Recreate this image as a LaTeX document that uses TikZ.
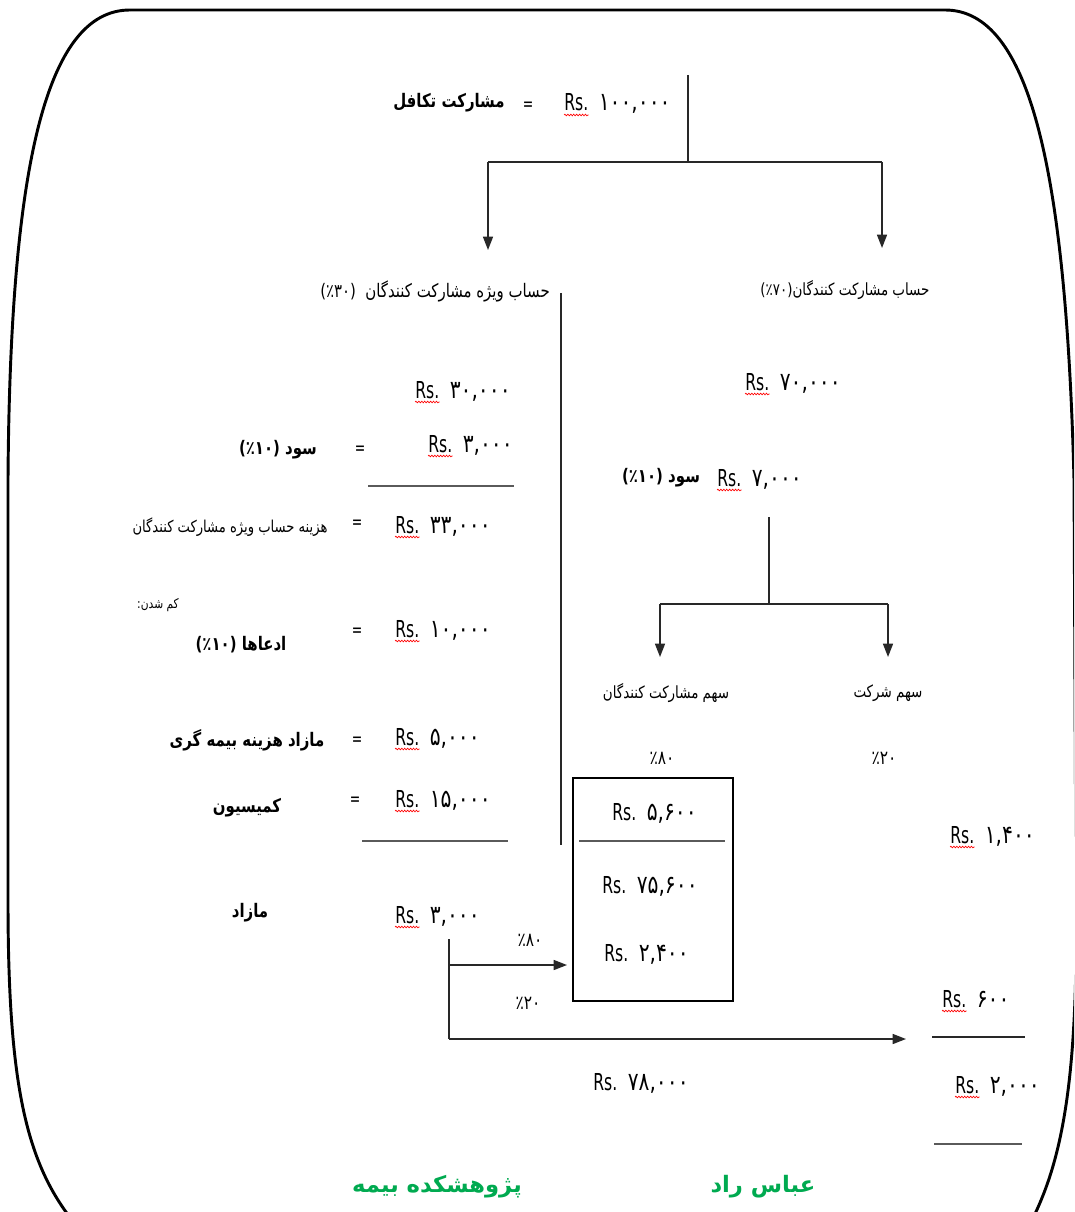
\documentclass[tikz,border=0pt]{standalone}
\usepackage{fontspec}
\usetikzlibrary{arrows.meta,decorations.pathmorphing}
\TeXXeTstate=1
\newfontfamily\fa[Script=Arabic,FakeStretch=0.8]{DejaVu Sans}
\newfontfamily\fag[Script=Arabic]{DejaVu Sans}
\newfontfamily\nm[FakeStretch=0.67]{DejaVu Sans}
\newfontfamily\nmd[FakeStretch=0.8]{DejaVu Sans}
\definecolor{brand}{RGB}{0,170,80}
\definecolor{ink}{RGB}{40,40,40}
\definecolor{rule}{RGB}{90,90,90}

\tikzset{
  wire/.style={draw=ink, line width=1.1pt},
  sumline/.style={draw=rule, line width=1.6pt},
  arr/.style={-{Triangle[length=10pt,width=7.5pt]}},
  frame/.style={draw=black, line width=2.2pt},
  boxline/.style={draw=black, line width=2pt},
  rs/.style={font=\nm\fontsize{17.5}{20}\selectfont, inner sep=0pt, anchor=base west},
  dig/.style={font=\nmd\fontsize{19}{22}\selectfont, inner sep=0pt, anchor=base west},
  eq/.style={font=\nm\fontsize{14}{16}\selectfont, inner sep=0pt},
  lab/.style={font=\fa\fontsize{14}{17}\selectfont, inner sep=0pt},
  labm/.style={font=\fa\fontsize{12.6}{15}\selectfont, inner sep=0pt},
  labb/.style={font=\fa\bfseries\fontsize{14}{17}\selectfont, inner sep=0pt},
  labs/.style={font=\fa\fontsize{12.3}{14}\selectfont, inner sep=0pt},
  tiny/.style={font=\fa\fontsize{10}{12}\selectfont, inner sep=0pt},
  pct/.style={font=\fa\fontsize{14.5}{17}\selectfont, inner sep=0pt},
  credit/.style={font=\fag\bfseries\fontsize{17}{20}\selectfont, text=brand, inner sep=0pt},
  squig/.style={draw=red, line width=0.5pt, decorate,
    decoration={snake, amplitude=0.6pt, segment length=2.2pt}}
}

% amount: name, baseline start of "Rs.", digits (with red spelling squiggle)
\newcommand\amt[3]{%
  \node[rs] (#1) at (#2) {Rs.};
  \node[dig] (#1d) at ([xshift=7.5pt]#1.base east) {#3};
  \draw[squig] ([yshift=-3pt]#1.base west) -- ([yshift=-3pt]#1.base east);
}
% amount without squiggle
\newcommand\amtplain[3]{%
  \node[rs] (#1) at (#2) {Rs.};
  \node[dig] (#1d) at ([xshift=7.5pt]#1.base east) {#3};
}

\begin{document}
\begin{tikzpicture}[x=0.75pt,y=-0.75pt]
\useasboundingbox (0,0) rectangle (1074,1212);
\clip (0,0) rectangle (1074,1212);

% rounded outer frame
\draw[frame] (130,10) -- (945,10)
  .. controls (1030,10) and (1066,170) .. (1074,480) -- (1076,900)
  .. controls (1078,1080) and (1062,1160) .. (1032,1220);
\draw[frame] (130,10)
  .. controls (45,10) and (10,170) .. (8,480) -- (8,900)
  .. controls (8,1080) and (25,1160) .. (72,1220);

% total contribution
\node[labb] (title) at (449,103) {\beginR مشارکت تکافل\endR};
\node[eq] (eq0) at (528,106) {=};
\amt{a0}{564,111}{۱۰۰,۰۰۰}

% split into the two accounts
\coordinate (stem0) at (688,75);
\coordinate (j0) at (688,162);
\coordinate (j0l) at (488,162);
\coordinate (j0r) at (882,162);
\coordinate (t0l) at (488,250);
\coordinate (t0r) at (882,248);
\draw[wire] (stem0) -- (j0);
\draw[wire] (j0l) -- (j0r);
\draw[wire,arr] (j0l) -- (t0l);
\draw[wire,arr] (j0r) -- (t0r);

\node[lab] (hl) at (435,291) {(٪۳۰)\ \ \beginR حساب ویژه مشارکت کنندگان\endR};
\node[labm] (hr) at (845,290) {(٪۷۰)\beginR حساب مشارکت کنندگان\endR};

% divider between the two columns
\coordinate (dv1) at (561,293);
\coordinate (dv2) at (561,845);
\draw[wire] (dv1) -- (dv2);

% left column: special participants' account
\amt{a1}{415,398}{۳۰,۰۰۰}
\node[labb] (sud1) at (278,450) {(٪۱۰)\ \beginR سود\endR};
\node[eq] (eq1) at (360,450) {=};
\amt{a2}{428,452}{۳,۰۰۰}
\coordinate (s1a) at (368,486);
\coordinate (s1b) at (514,486);
\draw[sumline] (s1a) -- (s1b);

\node[labs] (cost) at (230,527) {\beginR هزینه حساب ویژه مشارکت کنندگان\endR};
\node[eq] (eq2) at (357,524) {=};
\amt{a3}{395,533}{۳۳,۰۰۰}

\node[tiny] (less) at (158,605) {\beginR کم شدن:\endR};
\node[labb] (claims) at (241,645) {(٪۱۰)\ \beginR ادعاها\endR};
\node[eq] (eq3) at (357,632) {=};
\amt{a4}{395,637}{۱۰,۰۰۰}

\node[labb] (surpc) at (247,740) {\beginR مازاد هزینه بیمه گری\endR};
\node[eq] (eq4) at (357,741) {=};
\amt{a5}{395,745}{۵,۰۰۰}

\node[labb] (comm) at (247,808) {\beginR کمیسیون\endR};
\node[eq] (eq5) at (355,801) {=};
\amt{a6}{395,807}{۱۵,۰۰۰}
\coordinate (s2a) at (362,841);
\coordinate (s2b) at (508,841);
\draw[sumline] (s2a) -- (s2b);

\node[labb] (surp) at (250,913) {\beginR مازاد\endR};
\amt{a7}{395,923}{۳,۰۰۰}

% right column: participants' account
\amt{b1}{745,390}{۷۰,۰۰۰}
\node[labb] (sud2) at (661,478) {(٪۱۰)\ \beginR سود\endR};
\amt{b2}{717,486}{۷,۰۰۰}

\coordinate (stem1) at (769,517);
\coordinate (j1) at (769,604);
\coordinate (j1l) at (660,604);
\coordinate (j1r) at (888,604);
\coordinate (t1l) at (660,657);
\coordinate (t1r) at (888,657);
\draw[wire] (stem1) -- (j1);
\draw[wire] (j1l) -- (j1r);
\draw[wire,arr] (j1l) -- (t1l);
\draw[wire,arr] (j1r) -- (t1r);

\node[labm] (shp) at (666,693) {\beginR سهم مشارکت کنندگان\endR};
\node[labm] (shc) at (888,693) {\beginR سهم شرکت\endR};
\node[pct] (p80) at (662,758) {٪۸۰};
\node[pct] (p20) at (884,758) {٪۲۰};

% participants' share box
\node[boxline, minimum width=120pt, minimum height=167.25pt, inner sep=0pt]
  (box) at (653,889.5) {};
\amtplain{c1}{612,820}{۵,۶۰۰}
\coordinate (s3a) at (579,841);
\coordinate (s3b) at (725,841);
\draw[sumline] (s3a) -- (s3b);
\amtplain{c2}{602,893}{۷۵,۶۰۰}
\amtplain{c3}{604,961}{۲,۴۰۰}

\amt{d1}{950,843}{۱,۴۰۰}

% distribution of the surplus
\coordinate (sp0) at (449,939);
\coordinate (sp1) at (449,965);
\coordinate (sp2) at (449,1039);
\coordinate (t2) at (567,965);
\coordinate (t3) at (906,1039);
\draw[wire] (sp0) -- (sp2);
\draw[wire,arr] (sp1) -- (t2);
\draw[wire,arr] (sp2) -- (t3);
\node[pct] (q80) at (530,940) {٪۸۰};
\node[pct] (q20) at (528,1003) {٪۲۰};

\amtplain{e1}{593,1090}{۷۸,۰۰۰}

\amt{f1}{942,1007}{۶۰۰}
\coordinate (s4a) at (932,1037);
\coordinate (s4b) at (1025,1037);
\draw[wire] (s4a) -- (s4b);
\amt{f2}{955,1093}{۲,۰۰۰}
\coordinate (s5a) at (934,1144);
\coordinate (s5b) at (1022,1144);
\draw[sumline] (s5a) -- (s5b);

% credits
\node[credit] (inst) at (437,1187) {\beginR پژوهشکده بیمه\endR};
\node[credit] (auth) at (763,1187) {\beginR عباس راد\endR};
\end{tikzpicture}
\end{document}
